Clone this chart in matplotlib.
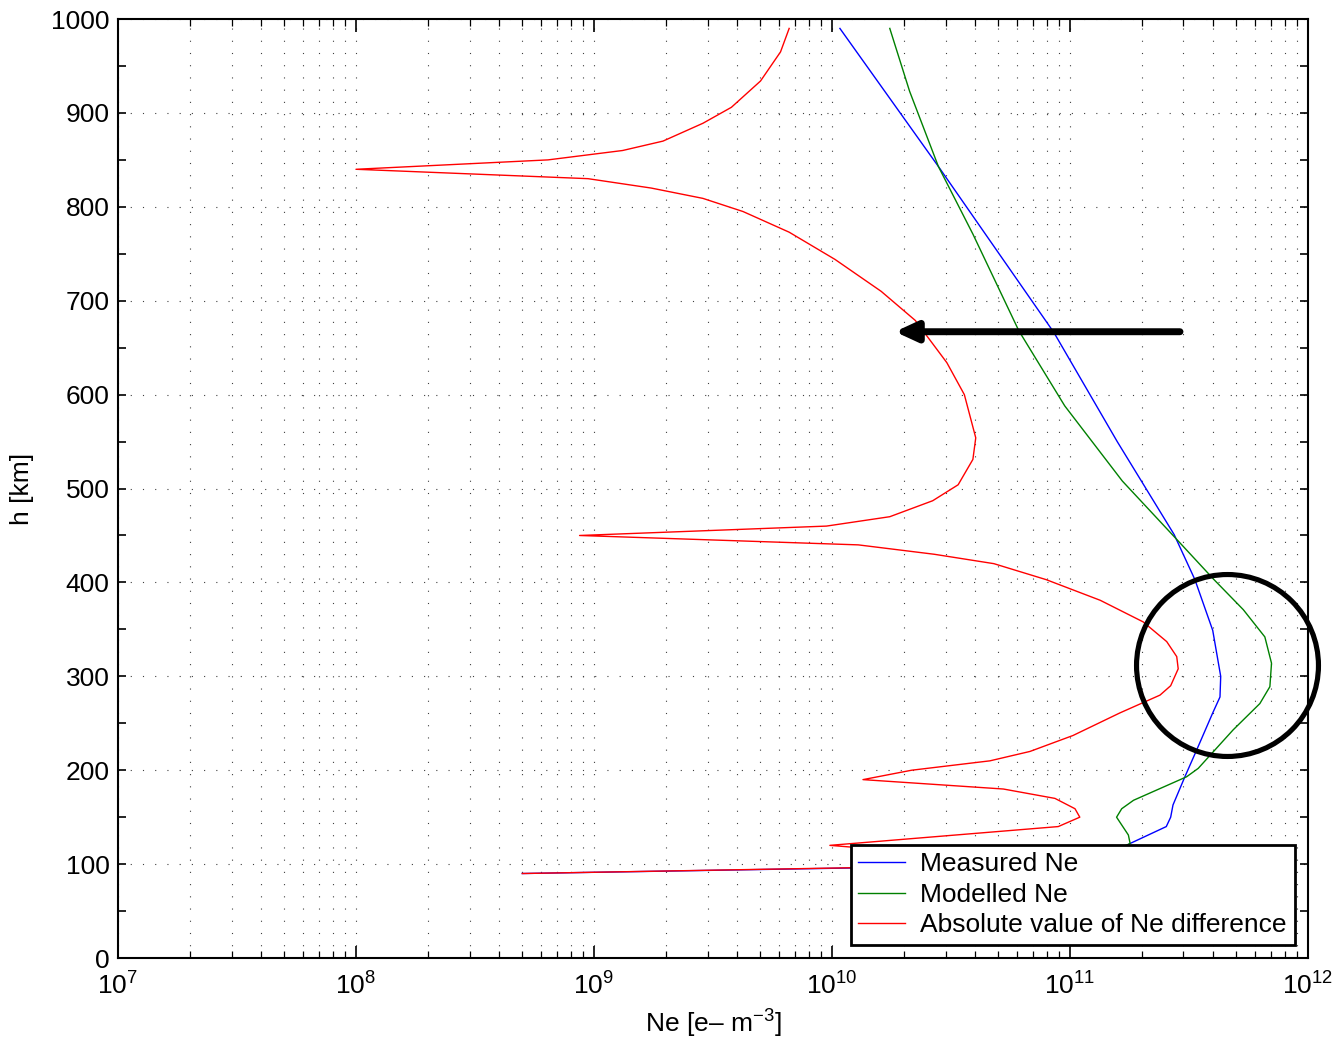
import matplotlib
matplotlib.use("Agg")
import matplotlib.pyplot as plt
from matplotlib.ticker import LogLocator, MultipleLocator, NullFormatter

plt.rcParams['font.family'] = ['Liberation Sans', 'DejaVu Sans']
plt.rcParams['mathtext.fontset'] = 'custom'
plt.rcParams['mathtext.rm'] = 'Liberation Sans'
plt.rcParams['mathtext.it'] = 'Liberation Sans'
plt.rcParams['mathtext.default'] = 'regular'

# measured Ne profile
h_meas = [90, 100, 110, 122, 140, 150, 163, 193, 221, 261, 278, 300, 349, 403,
          451, 550, 666, 760, 843, 990]
ne_meas = [5.0e8, 1.1e11, 1.5e11, 1.79e11, 2.54e11, 2.65e11, 2.71e11, 3.04e11,
           3.40e11, 3.98e11, 4.27e11, 4.30e11, 3.98e11, 3.35e11, 2.74e11,
           1.58e11, 8.57e10, 4.73e10, 2.80e10, 1.08e10]

# modelled Ne profile
h_mod = [100, 110, 122, 131, 150, 159, 168, 193, 202, 243, 271, 289, 314, 342,
         371, 403, 451, 508, 588, 668, 771, 843, 923, 990]
ne_mod = [2.0e10, 1.41e11, 1.79e11, 1.76e11, 1.57e11, 1.65e11, 1.85e11, 3.09e11,
          3.46e11, 4.85e11, 6.28e11, 6.92e11, 7.03e11, 6.59e11, 5.35e11, 4.03e11,
          2.69e11, 1.66e11, 9.51e10, 6.10e10, 3.91e10, 2.80e10, 2.12e10, 1.75e10]

# |measured - modelled|
h_diff = [90, 100, 110, 120, 140, 150, 159, 170, 180, 190, 200, 210, 220, 237,
          261, 280, 290, 308, 321, 337, 358, 381, 403, 420, 430, 440, 450, 460,
          470, 487, 504, 531, 554, 600, 634, 679, 710, 744, 773, 795, 809, 820,
          830, 840, 850, 860, 870, 889, 906, 934, 965, 990]
ne_diff = [5.0e8, 8.9e10, 3.0e10, 9.8e9, 8.93e10, 1.10e11, 1.05e11, 8.65e10,
           5.25e10, 1.35e10, 2.16e10, 4.61e10, 6.79e10, 1.03e11, 1.62e11,
           2.39e11, 2.65e11, 2.85e11, 2.81e11, 2.55e11, 2.03e11, 1.34e11,
           7.94e10, 4.79e10, 2.69e10, 1.29e10, 8.7e8, 9.48e9, 1.75e10, 2.65e10,
           3.39e10, 3.91e10, 4.02e10, 3.60e10, 3.04e10, 2.24e10, 1.61e10,
           1.03e10, 6.61e9, 4.23e9, 2.87e9, 1.74e9, 9.44e8, 1.0e8, 6.41e8,
           1.32e9, 1.95e9, 2.87e9, 3.78e9, 5.01e9, 6.08e9, 6.61e9]

fig = plt.figure(figsize=(13.33, 10.46), dpi=100)
ax = fig.add_axes([0.0885, 0.0841, 0.8927, 0.8977])

ax.plot(ne_meas, h_meas, color=(0, 0, 1), lw=1.0, label="Measured Ne")
ax.plot(ne_mod, h_mod, color=(0, 0.5, 0), lw=1.0, label="Modelled Ne")
ax.plot(ne_diff, h_diff, color=(1, 0, 0), lw=1.0, label="Absolute value of Ne difference")

ax.set_xscale("log")
ax.set_xlim(1e7, 1e12)
ax.set_ylim(0, 1000)
ax.xaxis.set_major_locator(LogLocator(base=10, numticks=10))
ax.xaxis.set_minor_locator(LogLocator(base=10, subs=range(2, 10), numticks=20))
ax.xaxis.set_minor_formatter(NullFormatter())
ax.yaxis.set_major_locator(MultipleLocator(100))
ax.yaxis.set_minor_locator(MultipleLocator(50))

ax.tick_params(which="both", direction="in", top=True, right=True, labelsize=19)
ax.tick_params(axis="x", which="major", length=9, width=1.2, pad=10)
ax.tick_params(axis="x", which="minor", length=5, width=0.9)
ax.tick_params(axis="y", which="both", length=6, width=1.2, pad=6)
for s in ax.spines.values():
    s.set_linewidth(1.5)

dots = (0, (1, 10))
ax.grid(True, which="major", axis="both", color="0.25", lw=0.8, linestyle=dots)
ax.grid(True, which="minor", axis="x", color="0.25", lw=0.8, linestyle=dots)
ax.set_axisbelow(True)

ax.set_xlabel(r"Ne [e– m$^{-3}$]", fontsize=19, labelpad=6)
ax.set_ylabel("h [km]", fontsize=19, labelpad=12)

# annotation arrow and circle
ax.annotate("", xy=(1.84e10, 667), xytext=(2.9e11, 667),
            arrowprops=dict(arrowstyle="-|>,head_length=1.3,head_width=0.6",
                            lw=5, color="black", shrinkA=0, shrinkB=0))
ax.plot([4.57e11], [312], marker="o", markersize=131, markerfacecolor="none",
        markeredgecolor="black", markeredgewidth=3.7, clip_on=False, zorder=5)

leg = ax.legend(loc="lower right", bbox_to_anchor=(0.989, 0.0138), borderaxespad=0,
                fontsize=19, fancybox=False, framealpha=1, edgecolor="black",
                handlelength=1.75, handletextpad=0.6, labelspacing=0.24,
                borderpad=0.3)
leg.get_frame().set_linewidth(2)
leg.set_zorder(6)

plt.savefig("out.png", dpi=100)
